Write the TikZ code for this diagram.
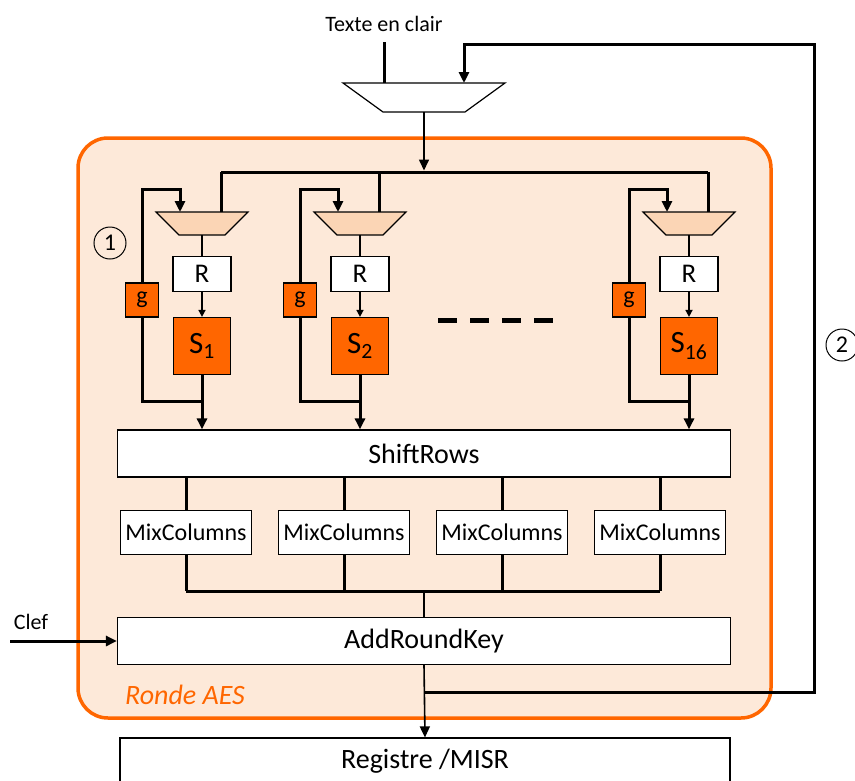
\documentclass[tikz,border=0pt]{standalone}
\usepackage{fontspec}
\setmainfont{Carlito}
\usetikzlibrary{arrows.meta}

\definecolor{aesorange}{HTML}{FF6600}
\definecolor{rondefill}{HTML}{FDE9D9}
\definecolor{muxfill}{HTML}{FBD5B5}

\tikzset{
  bus/.style={line width=3pt},
  wire/.style={line width=1.6pt},
  blk/.style={draw, line width=1.2pt, fill=white, inner sep=0pt},
  sbox/.style={blk, fill=aesorange},
  muxbox/.style={inner sep=0pt, outer sep=0pt},
  muxline/.style={draw, line width=1.2pt, line join=miter},
  num/.style={draw, circle, line width=1pt, minimum size=32pt, inner sep=0pt,
    font=\fontsize{24}{24}\selectfont},
  bigtxt/.style={font=\fontsize{28}{28}\selectfont},
}

\begin{document}
\begin{tikzpicture}[x=1pt, y=-1pt, >={Triangle[length=11pt,width=10pt]}]
  \useasboundingbox (0,0) rectangle (855,780);

  % la ronde
  \draw[aesorange, line width=3.5pt, fill=rondefill, rounded corners=30pt] (78,138) rectangle (771,718);
  \node[aesorange, font=\fontsize{28}{28}\selectfont\itshape] (ronde) at (185,695) {Ronde AES};

  % entree
  \node[font=\fontsize{22}{22}\selectfont] (txt) at (384,24) {Texte en clair};
  \node[muxbox, minimum width=162, minimum height=29] (mux) at (424,97.5) {};
  \draw[muxline, fill=white] (mux.north west) -- (mux.north east) -- ([xshift=-40]mux.south east)
    -- ([xshift=40]mux.south west) -- cycle;
  \coordinate (tin) at (384,42);
  \draw[bus] (tin) -- (tin |- mux.north);
  \coordinate (busM) at (424,170.5);
  \draw[wire,->] (mux.south) -- (busM);

  \node[bigtxt, blk, minimum width=613, minimum height=47] (shift) at (424,453.5) {ShiftRows};

  % colonnes S-box
  \foreach \c/\n in {202/1, 360/2, 689/16}{
    \node[muxbox, minimum width=92, minimum height=23] (mux\n) at (\c,223.5) {};
    \draw[muxline, fill=muxfill] (mux\n.north west) -- (mux\n.north east) -- ([xshift=-23]mux\n.south east)
      -- ([xshift=23]mux\n.south west) -- cycle;
    \node[blk, minimum width=58, minimum height=35, font=\fontsize{27}{27}\selectfont] (r\n) at (\c,274) {R};
    \node[sbox, minimum size=57, font=\fontsize{31}{31}\selectfont] (s\n) at (\c,346) {S\textsubscript{\n}};
    \node[sbox, minimum width=33, minimum height=34, font=\fontsize{24}{24}\selectfont] (g\n) at (\c-60,300) {g};
    \coordinate (d\n) at (\c+19,172);
    \coordinate (lp\n) at (\c-22,189);
    \coordinate (j\n) at (\c,401);
    \draw[wire] (mux\n.south) -- (r\n.north);
    \draw[wire,-{Triangle[length=7pt,width=7pt]}] (r\n.south) -- (s\n.north);
    \draw[bus] (d\n) -- (d\n |- mux\n.north);
    \draw[bus,->] (g\n.north) |- (lp\n) -- (lp\n |- mux\n.north);
    \draw[bus] (g\n.south) |- (j\n);
    \draw[bus,->] (s\n.south) -- (s\n.south |- shift.north);
  }
  \draw[bus] (d1) -- (d16);
  \draw[line width=5pt, dash pattern=on 19pt off 13pt] (438,320) -- (553,320);

  % MixColumns
  \foreach \x/\m in {186/1, 344/2, 502/3, 660/4}{
    \node[blk, minimum width=131, minimum height=44, font=\fontsize{24}{24}\selectfont] (mc\m) at (\x,532.5) {MixColumns};
    \coordinate (k\m) at (\x,591);
    \draw[bus] (mc\m.north) -- (mc\m.north |- shift.south);
    \draw[bus] (mc\m.south) -- (k\m);
  }
  \draw[bus] (k1) -- (k4);

  % AddRoundKey
  \node[bigtxt, blk, minimum width=613, minimum height=47] (ark) at (424,641) {AddRoundKey};
  \draw[wire] (ark.north |- k1) -- (ark.north);
  \node[font=\fontsize{22}{22}\selectfont] (clef) at (31,622) {Clef};
  \coordinate (cin) at (10,641);
  \draw[bus,->] (cin) -- (ark.west);

  % sortie et rebouclage
  \node[bigtxt, blk, minimum width=610, minimum height=46] (reg) at (425,761) {Registre /MISR};
  \draw[wire,->] (ark.south) -- (reg.north);
  \coordinate (tap) at (424,692);
  \coordinate (fb) at (814,44);
  \draw[bus,->] (tap) -| (fb) -| ([xshift=40]mux.north);

  \node[num] (n1) at (110,243) {1};
  \node[num] (n2) at (842,345) {2};
\end{tikzpicture}
\end{document}
